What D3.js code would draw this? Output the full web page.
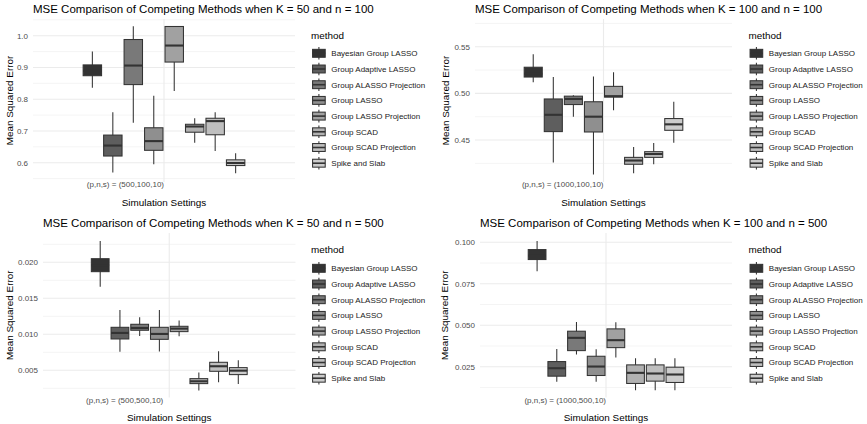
<!DOCTYPE html>
<html>
<head>
<meta charset="utf-8">
<script src="https://cdn.jsdelivr.net/npm/d3@7"></script>
<style>
  body { margin: 0; background: #fff; }
  svg { font-family: "Liberation Sans", Arial, sans-serif; }
</style>
</head>
<body>
<script>
// methods (legend order) and their grey fills
var methods = ["Bayesian Group LASSO", "Group Adaptive LASSO", "Group ALASSO Projection",
  "Group LASSO", "Group LASSO Projection", "Group SCAD", "Group SCAD Projection", "Spike and Slab"];
var greys = ["#333333", "#5E5E5E", "#797979", "#8F8F8F", "#A1A1A1", "#B1B1B1", "#BFBFBF", "#CCCCCC"];

var titles = [
  "MSE Comparison of Competing Methods when K = 50 and n = 100",
  "MSE Comparison of Competing Methods when K = 100 and n = 100",
  "MSE Comparison of Competing Methods when K = 50 and n = 500",
  "MSE Comparison of Competing Methods when K = 100 and n = 500"
];
var settings = ["(p,n,s) = (500,100,10)", "(p,n,s) = (1000,100,10)",
  "(p,n,s) = (500,500,10)", "(p,n,s) = (1000,500,10)"];

// box stats per method: [lower whisker, q1, median, q3, upper whisker]
var statsK50n100 = [
  [0.836, 0.874, 0.889, 0.908, 0.950],
  [0.569, 0.621, 0.654, 0.687, 0.759],
  [0.726, 0.846, 0.906, 0.988, 1.030],
  [0.595, 0.639, 0.668, 0.710, 0.811],
  [0.826, 0.917, 0.969, 1.029, 1.030],
  [0.663, 0.696, 0.714, 0.721, 0.740],
  [0.637, 0.688, 0.731, 0.740, 0.759],
  [0.567, 0.591, 0.599, 0.609, 0.630]
];
var statsK100n100 = [
  [0.512, 0.5175, 0.521, 0.528, 0.542],
  [0.426, 0.459, 0.477, 0.494, 0.5175],
  [0.475, 0.488, 0.494, 0.497, 0.498],
  [0.413, 0.4586, 0.475, 0.491, 0.518],
  [0.482, 0.496, 0.497, 0.5075, 0.5225],
  [0.4143, 0.424, 0.428, 0.4314, 0.4425],
  [0.424, 0.4314, 0.435, 0.4375, 0.4468],
  [0.447, 0.4604, 0.4668, 0.473, 0.491]
];
var statsK50n500 = [
  [0.01662, 0.0187, 0.0196, 0.0205, 0.02296],
  [0.00759, 0.00935, 0.01019, 0.01097, 0.01338],
  [0.00977, 0.01056, 0.01088, 0.01139, 0.01236],
  [0.0076, 0.0093, 0.01005, 0.01097, 0.01338],
  [0.00972, 0.01037, 0.01079, 0.01111, 0.0119],
  [0.00218, 0.00315, 0.00347, 0.00384, 0.00468],
  [0.00333, 0.00486, 0.00556, 0.00611, 0.00764],
  [0.0031, 0.0044, 0.00495, 0.00537, 0.00639]
];
var statsK100n500 = [
  [0.0825, 0.0896, 0.092, 0.0956, 0.1008],
  [0.0159, 0.0193, 0.0241, 0.0281, 0.0357],
  [0.0323, 0.0347, 0.0424, 0.0464, 0.052],
  [0.0159, 0.0197, 0.0251, 0.0313, 0.0355],
  [0.0305, 0.0365, 0.041, 0.0478, 0.0518],
  [0.0108, 0.0149, 0.0213, 0.0261, 0.0301],
  [0.0108, 0.0163, 0.0209, 0.0261, 0.0301],
  [0.0108, 0.0155, 0.0203, 0.0247, 0.0301]
];

// y axis limits, major ticks, tick labels, minor grid
var yLimits = [[0.5392, 1.0526], [0.405, 0.5797], [0.00122, 0.02407], [0.00644, 0.1056]];
var yTicks = [[0.6, 0.7, 0.8, 0.9, 1.0], [0.45, 0.50, 0.55], [0.005, 0.010, 0.015, 0.020], [0.025, 0.050, 0.075, 0.100]];
var yTickLabels = [["0.6", "0.7", "0.8", "0.9", "1.0"], ["0.45", "0.50", "0.55"],
  ["0.005", "0.010", "0.015", "0.020"], ["0.025", "0.050", "0.075", "0.100"]];
var yMinor = [[0.55, 0.65, 0.75, 0.85, 0.95, 1.05], [0.425, 0.475, 0.525, 0.575],
  [0.0025, 0.0075, 0.0125, 0.0175, 0.0225], [0.0125, 0.0375, 0.0625, 0.0875]];

var allStats = [statsK50n100, statsK100n100, statsK50n500, statsK100n500];

// layout of the four plots
var panels = [
  { left: 33, right: 295, top: 19, bottom: 182, titleY: 13.3, yTitleX: 13, legX: 311, legTop: 39, rowY: 53.3, xLabDx: 0 },
  { left: 475, right: 732, top: 19, bottom: 182, titleY: 13.3, yTitleX: 449, legX: 748.5, legTop: 39, rowY: 53.3, xLabDx: 0 },
  { left: 43, right: 295.5, top: 233, bottom: 397.5, titleY: 227.3, yTitleX: 13, legX: 311, legTop: 253, rowY: 268.3, xLabDx: -6 },
  { left: 480, right: 732, top: 233, bottom: 397.5, titleY: 227.3, yTitleX: 448, legX: 748.5, legTop: 253, rowY: 268.3, xLabDx: 0 }
];

var svg = d3.select("body").append("svg")
  .attr("width", 867)
  .attr("height", 424);

function drawPanel(p, k) {
  var stats = allStats[k];
  var g = svg.append("g");

  var x = d3.scaleLinear().domain([0.4, 1.6]).range([p.left, p.right]);
  var y = d3.scaleLinear().domain(yLimits[k]).range([p.bottom, p.top]);
  // dodge the 8 methods across 0.75 of the single category
  var band = d3.scaleBand().domain(methods).range([x(0.625), x(1.375)])
    .paddingInner(0.1).paddingOuter(0.05);

  // grid
  g.selectAll(".minor").data(yMinor[k].filter(function (v) { return v >= yLimits[k][0] && v <= yLimits[k][1]; }))
    .enter().append("line")
    .attr("x1", p.left).attr("x2", p.right)
    .attr("y1", function (d) { return y(d); }).attr("y2", function (d) { return y(d); })
    .attr("stroke", "#EBEBEB").attr("stroke-width", 0.55);
  g.selectAll(".major").data(yTicks[k]).enter().append("line")
    .attr("x1", p.left).attr("x2", p.right)
    .attr("y1", function (d) { return y(d); }).attr("y2", function (d) { return y(d); })
    .attr("stroke", "#EBEBEB").attr("stroke-width", 1.1);
  g.append("line")
    .attr("x1", x(1)).attr("x2", x(1)).attr("y1", p.top).attr("y2", p.bottom)
    .attr("stroke", "#EBEBEB").attr("stroke-width", 1.1);

  // y tick labels
  g.selectAll(".ytl").data(yTicks[k]).enter().append("text")
    .attr("x", p.left - 5).attr("y", function (d) { return y(d) + 2.9; })
    .attr("text-anchor", "end").attr("font-size", 8).attr("fill", "#4D4D4D")
    .text(function (d, i) { return yTickLabels[k][i]; });

  // x tick label
  g.append("text")
    .attr("x", x(1) + p.xLabDx).attr("y", p.bottom + 5)
    .attr("text-anchor", "end").attr("font-size", 8).attr("fill", "#4D4D4D")
    .text(settings[k]);

  // axis titles and plot title
  g.append("text")
    .attr("x", x(1)).attr("y", p.bottom + 23.5)
    .attr("text-anchor", "middle").attr("font-size", 9.9).attr("fill", "#000")
    .text("Simulation Settings");
  g.append("text")
    .attr("transform", "translate(" + p.yTitleX + "," + ((p.top + p.bottom) / 2) + ") rotate(-90)")
    .attr("text-anchor", "middle").attr("font-size", 9.9).attr("fill", "#000")
    .text("Mean Squared Error");
  g.append("text")
    .attr("x", p.left).attr("y", p.titleY)
    .attr("font-size", 11.5).attr("fill", "#000")
    .text(titles[k]);

  // boxes
  var boxes = g.selectAll(".box").data(stats).enter().append("g");
  boxes.append("line")
    .attr("x1", function (d, i) { return band(methods[i]) + band.bandwidth() / 2; })
    .attr("x2", function (d, i) { return band(methods[i]) + band.bandwidth() / 2; })
    .attr("y1", function (d) { return y(d[0]); }).attr("y2", function (d) { return y(d[4]); })
    .attr("stroke", "#333333").attr("stroke-width", 1.05);
  boxes.append("rect")
    .attr("x", function (d, i) { return band(methods[i]); })
    .attr("width", band.bandwidth())
    .attr("y", function (d) { return y(d[3]); })
    .attr("height", function (d) { return Math.max(0.5, y(d[1]) - y(d[3])); })
    .attr("fill", function (d, i) { return greys[i]; })
    .attr("stroke", "#333333").attr("stroke-width", 1.05);
  boxes.append("line")
    .attr("x1", function (d, i) { return band(methods[i]); })
    .attr("x2", function (d, i) { return band(methods[i]) + band.bandwidth(); })
    .attr("y1", function (d) { return y(d[2]); }).attr("y2", function (d) { return y(d[2]); })
    .attr("stroke", "#333333").attr("stroke-width", 2.1);

  // legend
  var leg = g.append("g");
  leg.append("text").attr("x", p.legX).attr("y", p.legTop)
    .attr("font-size", 9.9).attr("fill", "#000").text("method");
  var ks = 15.8;
  var rows = leg.selectAll(".row").data(methods).enter().append("g")
    .attr("transform", function (d, i) { return "translate(" + p.legX + "," + (p.rowY + i * 15.7 - ks / 2) + ")"; });
  rows.append("line")
    .attr("x1", ks / 2).attr("x2", ks / 2).attr("y1", ks * 0.1).attr("y2", ks * 0.9)
    .attr("stroke", "#333333").attr("stroke-width", 1.05);
  rows.append("rect")
    .attr("x", ks * 0.1).attr("width", ks * 0.8).attr("y", ks * 0.25).attr("height", ks * 0.5)
    .attr("fill", function (d, i) { return greys[i]; })
    .attr("stroke", "#333333").attr("stroke-width", 1.05);
  rows.append("line")
    .attr("x1", ks * 0.1).attr("x2", ks * 0.9).attr("y1", ks / 2).attr("y2", ks / 2)
    .attr("stroke", "#333333").attr("stroke-width", 1.6);
  rows.append("text")
    .attr("x", ks + 4.5).attr("y", ks / 2 + 2.9)
    .attr("font-size", 8).attr("fill", "#1A1A1A")
    .text(function (d) { return d; });
}

panels.forEach(function (p, k) { drawPanel(p, k); });
</script>
</body>
</html>
